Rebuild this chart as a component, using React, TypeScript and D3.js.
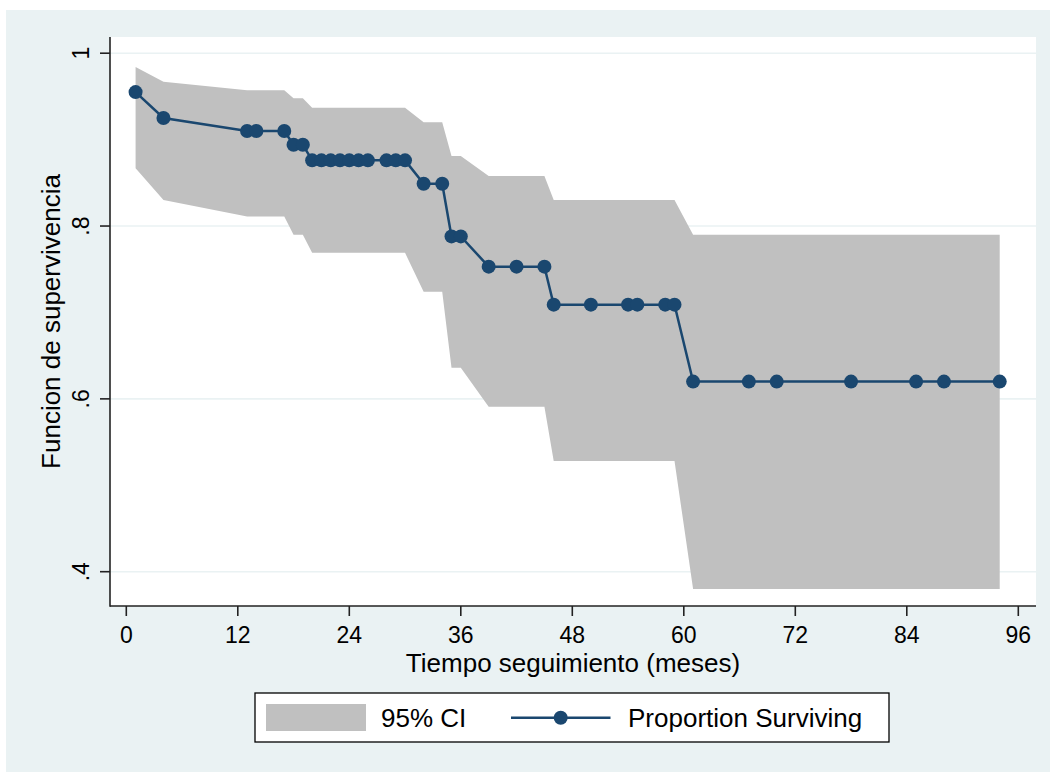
import React from "react";
import * as d3 from "d3";

// Follow-up time (months) of each plotted point
const times = [1, 4, 13, 14, 17, 18, 19, 20, 21, 22, 23, 24, 25, 26, 28, 29, 30, 32, 34, 35, 36, 39, 42, 45, 46, 50, 54, 55, 58, 59, 61, 67, 70, 78, 85, 88, 94];
// Proportion surviving
const survival = [0.955, 0.925, 0.91, 0.91, 0.91, 0.894, 0.894, 0.876, 0.876, 0.876, 0.876, 0.876, 0.876, 0.876, 0.876, 0.876, 0.876, 0.849, 0.849, 0.788, 0.788, 0.753, 0.753, 0.753, 0.709, 0.709, 0.709, 0.709, 0.709, 0.709, 0.62, 0.62, 0.62, 0.62, 0.62, 0.62, 0.62];
// 95% CI upper bound
const upperCI = [0.984, 0.967, 0.957, 0.957, 0.957, 0.948, 0.948, 0.937, 0.937, 0.937, 0.937, 0.937, 0.937, 0.937, 0.937, 0.937, 0.937, 0.92, 0.92, 0.881, 0.881, 0.858, 0.858, 0.858, 0.83, 0.83, 0.83, 0.83, 0.83, 0.83, 0.79, 0.79, 0.79, 0.79, 0.79, 0.79, 0.79];
// 95% CI lower bound
const lowerCI = [0.867, 0.83, 0.811, 0.811, 0.811, 0.79, 0.79, 0.769, 0.769, 0.769, 0.769, 0.769, 0.769, 0.769, 0.769, 0.769, 0.769, 0.724, 0.724, 0.636, 0.636, 0.591, 0.591, 0.591, 0.528, 0.528, 0.528, 0.528, 0.528, 0.528, 0.38, 0.38, 0.38, 0.38, 0.38, 0.38, 0.38];

const xTicks = [0, 12, 24, 36, 48, 60, 72, 84, 96];
const yTicks = [0.4, 0.6, 0.8, 1];
const yTickLabels = [".4", ".6", ".8", "1"];

const xTitle = "Tiempo seguimiento (meses)";
const yTitle = "Funcion de supervivencia";
const legendLabels = ["95% CI", "Proportion Surviving"];

const W = 1056;
const H = 773;
const BG = "#EAF2F3";
const NAVY = "#1A476F";
const BAND = "#C0C0C0";
const FONT = "'Liberation Sans', Arial, Helvetica, sans-serif";

const plot = { left: 110, right: 1036, top: 37, bottom: 606 };

export default function App() {
  const x = d3.scaleLinear().domain([0, 96]).range([126.3, 1018.3]);
  const y = d3.scaleLinear().domain([0.4, 1]).range([571.7, 53.2]);

  const rows = times.map((t, i) => ({ t, s: survival[i], lo: lowerCI[i], hi: upperCI[i] }));

  const area = d3
    .area<any>()
    .x((d) => x(d.t))
    .y0((d) => y(d.lo))
    .y1((d) => y(d.hi));
  const line = d3
    .line<any>()
    .x((d) => x(d.t))
    .y((d) => y(d.s));

  const cx = (plot.left + plot.right) / 2;
  const cy = (plot.top + plot.bottom) / 2;

  return (
    <svg
      width={W}
      height={H}
      style={{ position: "absolute", left: 0, top: 0, background: "#fff" }}
      fontFamily={FONT}
    >
      <rect x={0} y={0} width={W} height={H} fill="#fff" />
      <rect x={6} y={10} width={1044} height={762} fill={BG} />
      <rect
        x={plot.left}
        y={plot.top}
        width={plot.right - plot.left}
        height={plot.bottom - plot.top}
        fill="#fff"
      />
      {/* gridlines */}
      {yTicks.map((v) => (
        <line
          key={"g" + v}
          x1={plot.left}
          x2={plot.right}
          y1={y(v)}
          y2={y(v)}
          stroke={BG}
          strokeWidth={1.6}
        />
      ))}
      {/* CI band */}
      <path d={area(rows) || ""} fill={BAND} stroke="none" />
      {/* survival line */}
      <path d={line(rows) || ""} fill="none" stroke={NAVY} strokeWidth={2.5} />
      {rows.map((d, i) => (
        <circle key={"p" + i} cx={x(d.t)} cy={y(d.s)} r={7} fill={NAVY} />
      ))}
      {/* axes */}
      <line x1={plot.left} x2={plot.left} y1={plot.top} y2={plot.bottom + 0.8} stroke="#222" strokeWidth={1.6} />
      <line x1={plot.left} x2={plot.right} y1={plot.bottom} y2={plot.bottom} stroke="#222" strokeWidth={1.6} />
      {yTicks.map((v, i) => (
        <g key={"yt" + v}>
          <line x1={plot.left - 10} x2={plot.left} y1={y(v)} y2={y(v)} stroke="#222" strokeWidth={1.6} />
          <text
            transform={`translate(88.5,${y(v)}) rotate(-90)`}
            textAnchor="middle"
            fontSize={23}
            fill="#000"
          >
            {yTickLabels[i]}
          </text>
        </g>
      ))}
      {xTicks.map((v) => (
        <g key={"xt" + v}>
          <line x1={x(v)} x2={x(v)} y1={plot.bottom} y2={plot.bottom + 10} stroke="#222" strokeWidth={1.6} />
          <text x={x(v)} y={642.5} textAnchor="middle" fontSize={23} fill="#000">
            {v}
          </text>
        </g>
      ))}
      <text x={cx} y={671.5} textAnchor="middle" fontSize={26} fill="#000">
        {xTitle}
      </text>
      <text
        transform={`translate(59.5,${cy}) rotate(-90)`}
        textAnchor="middle"
        fontSize={26}
        fill="#000"
      >
        {yTitle}
      </text>
      {/* legend */}
      <rect x={255} y={693} width={634} height={49} fill="#fff" stroke="#000" strokeWidth={1.3} />
      <rect x={266} y={704} width={100} height={27} fill={BAND} />
      <text x={381} y={727} fontSize={26} fill="#000">
        {legendLabels[0]}
      </text>
      <line x1={511} x2={610.5} y1={717.7} y2={717.7} stroke={NAVY} strokeWidth={2.5} />
      <circle cx={560.7} cy={717.7} r={7} fill={NAVY} />
      <text x={628} y={727} fontSize={26} fill="#000">
        {legendLabels[1]}
      </text>
    </svg>
  );
}
